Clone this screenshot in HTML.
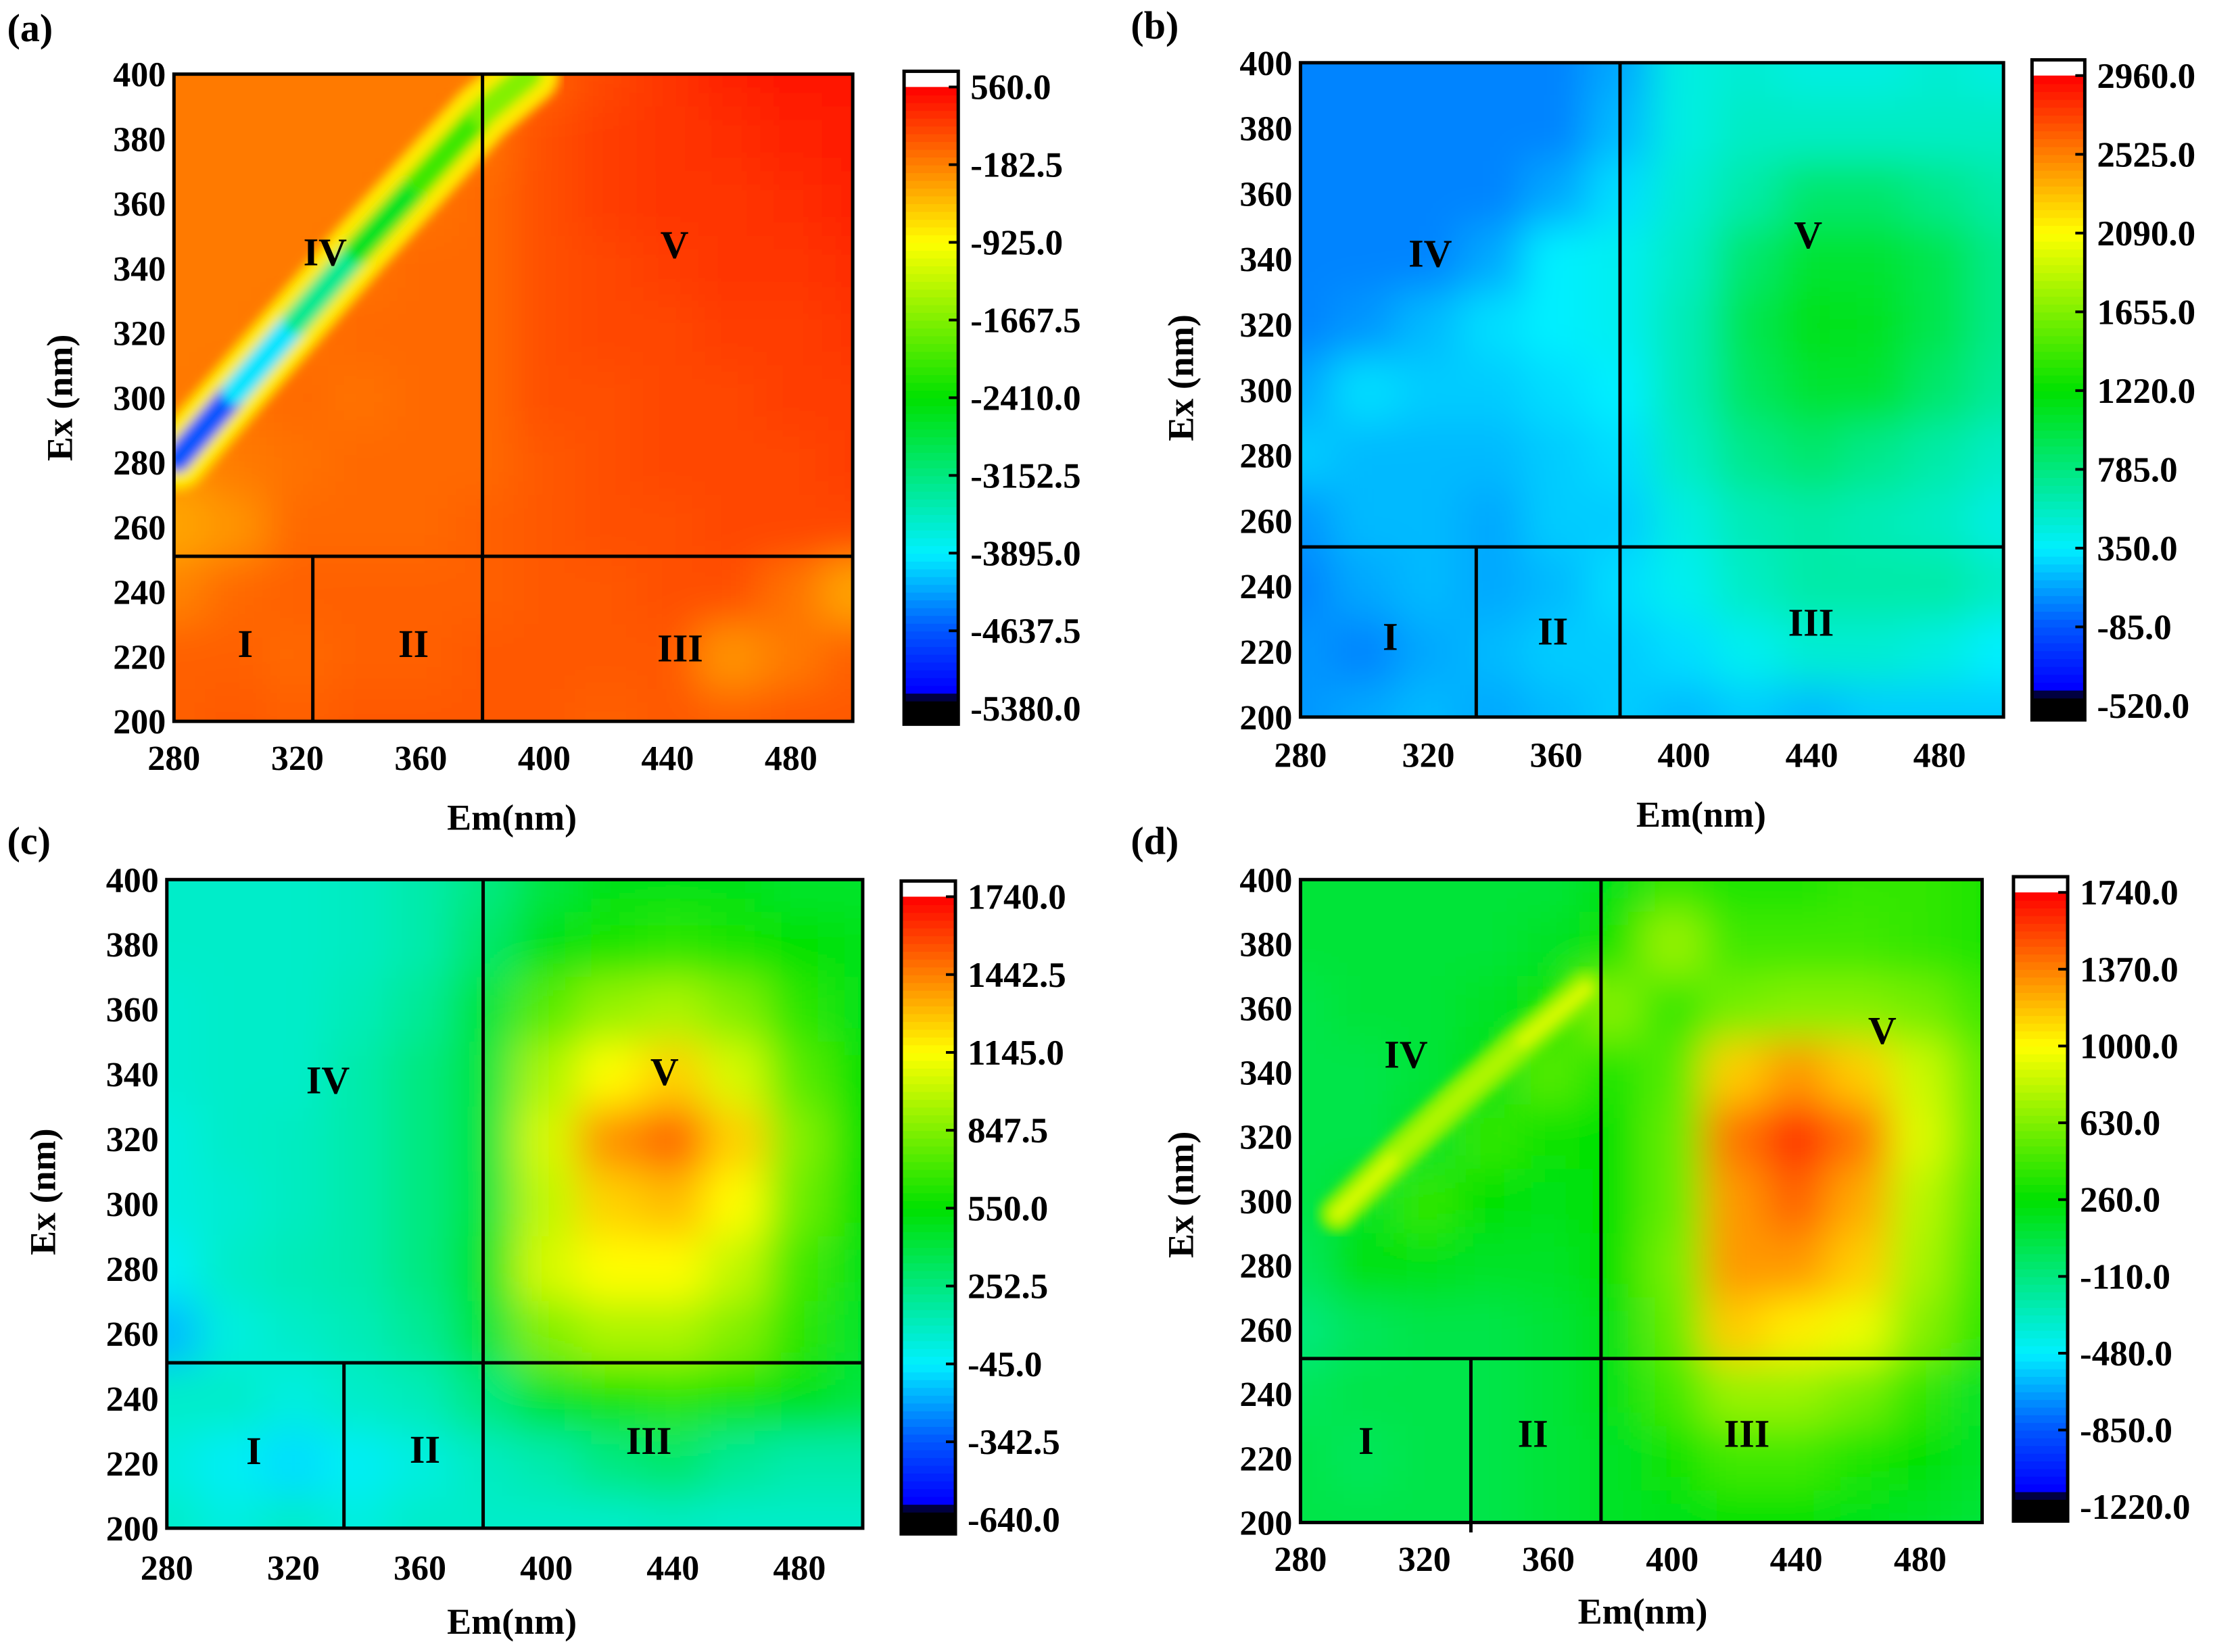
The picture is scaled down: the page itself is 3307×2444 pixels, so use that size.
<!DOCTYPE html>
<html><head><meta charset="utf-8"><style>
html,body{margin:0;padding:0;background:#fff;}
svg{display:block;}
text{font-family:"Liberation Serif",serif;font-weight:bold;fill:#000;}
</style></head><body>
<svg id="fig" width="3307" height="2444" viewBox="0 0 3307 2444" xmlns="http://www.w3.org/2000/svg">
<defs>
<filter id="blur" x="-10%" y="-10%" width="120%" height="120%"><feGaussianBlur stdDeviation="30"/></filter>
<filter id="blurS" x="-10%" y="-10%" width="120%" height="120%"><feGaussianBlur stdDeviation="8"/></filter>
</defs>
</svg>
<script>
// em columns 280..500 step 20, ex rows 400..200 step 20
const emCats=[280,300,320,340,360,380,400,420,440,460,480,500];
const exCats=[400,380,360,340,320,300,280,260,240,220,200];
const xTicks=['280','320','360','400','440','480'];
const yTicks=['400','380','360','340','320','300','280','260','240','220','200'];
const gridA=[
[-150,-150,-150,-150,-150,-150,0,150,250,350,420,450],
[-150,-150,-150,-150,-150,-100,100,200,250,300,350,400],
[-150,-150,-150,-150,-100,-50,100,200,250,250,300,350],
[-150,-150,-150,-100,-50,-50,100,150,200,250,250,300],
[-150,-150,-100,-50,-50,-50,100,150,150,200,200,250],
[-150,-100,-50,-100,-50,-50,100,100,150,150,200,200],
[-300,-150,-100,-50,-50,-50,50,100,150,150,150,200],
[-400,-300,-50,-50,-50,0,50,100,100,150,150,150],
[-200,-50,0,0,0,0,50,50,100,100,-100,-400],
[0,0,-50,0,0,50,50,50,50,-300,-150,0],
[0,50,0,50,50,50,50,0,50,0,50,50]];
const gridB=[
[50,50,50,50,50,150,450,500,450,450,500,450],
[50,50,50,50,50,200,450,550,550,550,550,550],
[50,50,50,50,150,300,500,650,850,850,750,650],
[50,50,50,150,350,400,550,850,1050,1050,950,750],
[50,100,200,300,350,400,600,950,1150,1100,950,750],
[150,300,250,250,300,350,600,900,1050,1050,850,700],
[250,200,200,200,250,300,550,750,850,750,650,550],
[100,200,200,150,250,250,450,600,650,600,550,450],
[50,150,200,150,200,300,400,550,650,650,650,550],
[100,50,150,200,250,250,300,400,500,500,450,350],
[100,150,200,150,200,250,200,250,200,250,250,250]];
const gridC=[
[80,80,80,100,150,250,400,500,500,500,450,450],
[80,80,80,100,150,300,500,600,650,600,550,500],
[60,80,80,120,200,400,750,900,950,850,650,500],
[60,80,80,150,250,400,950,1150,1250,1050,750,550],
[30,80,100,150,250,400,1050,1400,1500,1250,850,550],
[30,60,100,150,250,400,1000,1250,1300,1150,800,550],
[-20,80,120,150,250,450,1050,1150,1150,1000,700,500],
[-150,30,80,120,200,400,850,950,950,850,650,450],
[80,80,30,80,120,250,450,600,650,600,500,400],
[30,-20,-80,-20,30,100,150,250,300,200,150,150],
[80,30,80,30,80,80,80,80,100,80,80,80]];
const gridD=[
[100,100,100,100,100,200,400,350,350,400,400,350],
[100,100,100,100,150,300,700,450,450,450,400,350],
[50,100,100,150,300,650,400,600,650,650,600,450],
[50,50,100,200,500,350,500,1150,1300,1150,850,550],
[50,50,150,400,300,250,550,1400,1600,1400,900,550],
[50,150,400,250,200,250,550,1300,1450,1250,800,500],
[0,250,200,150,150,250,600,1300,1300,1150,750,450],
[-100,0,50,50,100,200,550,1150,1050,950,650,400],
[0,50,50,50,100,200,450,700,700,600,400,150],
[50,0,50,50,100,150,300,450,450,350,250,150],
[50,50,50,50,100,150,200,250,250,200,150,100]];
// scatter band: [em, ex, value]
const bandA=[[281,281,-5000],[300,302,-4300],[320,324,-3600],[340,346,-2900],[360,367,-2300],[380,388,-1800],[395,400,-1500]];
const bandAHalo=[-800];
const bandD=[[292,296,950],[312,315,800],[332,333,750],[352,350,800],[372,366,950]];
const bandDHalo=[650];
const cbA=['560.0','-182.5','-925.0','-1667.5','-2410.0','-3152.5','-3895.0','-4637.5','-5380.0'];
const cbB=['2960.0','2525.0','2090.0','1655.0','1220.0','785.0','350.0','-85.0','-520.0'];
const cbC=['1740.0','1442.5','1145.0','847.5','550.0','252.5','-45.0','-342.5','-640.0'];
const cbD=['1740.0','1370.0','1000.0','630.0','260.0','-110.0','-480.0','-850.0','-1220.0'];
const rangeA=[-5380,560],rangeB=[-520,2960],rangeC=[-640,1740],rangeD=[-1220,1740];

const S=2.109;
const NS='http://www.w3.org/2000/svg';
const svg=document.getElementById('fig');
function mk(tag,attrs,parent){const e=document.createElementNS(NS,tag);for(const k in attrs)e.setAttribute(k,attrs[k]);(parent||svg).appendChild(e);return e;}
const stops=[[0,[0,0,0]],[0.015,[0,0,0]],[0.03,[0,0,255]],[0.13,[0,90,255]],[0.25,[0,240,255]],[0.5,[0,225,0]],[0.75,[255,255,0]],[0.875,[255,128,0]],[1,[255,0,0]]];
function cmap(t){t=Math.max(0,Math.min(1,t));for(let i=1;i<stops.length;i++){if(t<=stops[i][0]){const a=stops[i-1],b=stops[i];const f=(t-a[0])/((b[0]-a[0])||1);const c=a[1].map((v,j)=>Math.round(v+(b[1][j]-v)*f));return 'rgb('+c.join(',')+')';}}return 'rgb(255,0,0)';}

const panels=[
{id:'a',lab:[5,20],px:[122,598],py:[52,506],cb:[634,672,50,508],cbT:[61,497],range:rangeA,cbl:cbA,grid:gridA,band:bandA,halo:bandAHalo,div:{v:380,sub:325,h:251,subExt:0},
 xt:530,xtitle:[359,573],ytitle:[42,279],rom:[['IV',228,177],['V',473,172],['I',172,452],['II',290,452],['III',477,455]]},
{id:'b',lab:[793,18],px:[912,1405],py:[44,503],cb:[1425,1462,42,505],cbT:[53,495],range:rangeB,cbl:cbB,grid:gridB,band:null,div:{v:380,sub:335,h:252,subExt:0},
 xt:528,xtitle:[1193,571],ytitle:[828,265],rom:[['IV',1003,178],['V',1268,165],['I',975,447],['II',1089,443],['III',1270,437]]},
{id:'c',lab:[5,590],px:[117,605],py:[617,1072],cb:[632,670,618,1076],cbT:[629,1066],range:rangeC,cbl:cbC,grid:gridC,band:null,div:{v:380,sub:336,h:251,subExt:0},
 xt:1098,xtitle:[359,1137],ytitle:[30,836],rom:[['IV',230,758],['V',466,752],['I',178,1018],['II',298,1017],['III',455,1011]]},
{id:'d',lab:[793,590],px:[912,1390],py:[617,1068],cb:[1412,1450,615,1067],cbT:[626,1057],range:rangeD,cbl:cbD,grid:gridD,band:bandD,halo:bandDHalo,div:{v:377,sub:335,h:251,subExt:7},
 xt:1092,xtitle:[1152,1130],ytitle:[828,838],rom:[['IV',986,740],['V',1320,723],['I',958,1011],['II',1075,1006],['III',1225,1006]]}
];

panels.forEach(p=>{
 const x0=p.px[0]*S,x1=p.px[1]*S,y0=p.py[0]*S,y1=p.py[1]*S;
 const xs=v=>x0+(v-280)/220*(x1-x0);
 const ys=v=>y1-(v-200)/200*(y1-y0);
 const tv=v=>(v-p.range[0])/(p.range[1]-p.range[0]);
 const g=mk('g',{});
 
 
 const lt=mk('text',{x:p.lab[0]*S,y:(p.lab[1]+9)*S,'font-size':58},g);lt.textContent='('+p.id+')';
 
 
 const cp=mk('clipPath',{id:'clip'+p.id},g);mk('rect',{x:x0,y:y0,width:x1-x0,height:y1-y0},cp);
 const hm=mk('g',{'clip-path':'url(#clip'+p.id+')'},g);
 
 
 const cells=mk('g',{filter:'url(#blur)'},hm);
 const dx=(x1-x0)/11,dy=(y1-y0)/10;
 p.grid.forEach((row,ri)=>row.forEach((v,ci)=>{
   const cx=xs(emCats[ci]),cy=ys(exCats[ri]);
   let l=cx-dx/2,r=cx+dx/2,t=cy-dy/2,b=cy+dy/2;
   if(ci===0)l-=120;if(ci===row.length-1)r+=120;if(ri===0)t-=120;if(ri===p.grid.length-1)b+=120;
   const c=mk('rect',{x:l,y:t,width:r-l+1,height:b-t+1,fill:cmap(tv(v))},cells);
   
   
 }));
 if(p.band){
   const bg=mk('g',{filter:'url(#blurS)'},hm);
   const pts=p.band.map(b=>xs(b[0])+','+ys(b[1])).join(' ');
   const h=mk('polyline',{points:pts,fill:'none',stroke:cmap(tv(p.halo[0])),'stroke-width':p.id==='a'?90:55,'stroke-linecap':'round'},bg);
   
   
   for(let i=1;i<p.band.length;i++){
     const a=p.band[i-1],b=p.band[i];
     const s=mk('line',{x1:xs(a[0]),y1:ys(a[1]),x2:xs(b[0]),y2:ys(b[1]),stroke:cmap(tv((a[2]+b[2])/2)),'stroke-width':p.id==='a'?40:22,'stroke-linecap':'round'},bg);
     
     
   }
 }
 const lw=5;
 const dv=mk('line',{x1:xs(p.div.v),y1:y0,x2:xs(p.div.v),y2:y1,stroke:'#000','stroke-width':lw},g);
 
 const dh=mk('line',{x1:x0,y1:ys(p.div.h),x2:x1,y2:ys(p.div.h),stroke:'#000','stroke-width':lw},g);
 
 const ds=mk('line',{x1:xs(p.div.sub),y1:ys(p.div.h),x2:xs(p.div.sub),y2:y1+p.div.subExt*S,stroke:'#000','stroke-width':lw},g);
 
 const fr=mk('rect',{x:x0,y:y0,width:x1-x0,height:y1-y0,fill:'none',stroke:'#000','stroke-width':5},g);
 
 p.rom.forEach(r=>{const t=mk('text',{x:r[1]*S,y:(r[2]+9)*S,'font-size':58,'text-anchor':'middle'},g);t.textContent=r[0];
   });
 xTicks.forEach(s=>{const t=mk('text',{x:xs(+s),y:(p.xt+10)*S,'font-size':52,'text-anchor':'middle'},g);t.textContent=s;
   });
 yTicks.forEach(s=>{const t=mk('text',{x:x0-12,y:ys(+s)+18,'font-size':52,'text-anchor':'end'},g);t.textContent=s;
   });
 const xt=mk('text',{x:p.xtitle[0]*S,y:(p.xtitle[1]+9)*S,'font-size':54,'text-anchor':'middle'},g);xt.textContent='Em(nm)';
 
 const yt=mk('text',{x:0,y:0,'font-size':54,'text-anchor':'middle',transform:'translate('+(p.ytitle[0]*S+18)+','+(p.ytitle[1]*S)+') rotate(-90)'},g);yt.textContent='Ex (nm)';
 
 const cbx0=p.cb[0]*S,cbx1=p.cb[1]*S,cby0=p.cb[2]*S,cby1=p.cb[3]*S,ct=p.cbT[0]*S,cbm=p.cbT[1]*S;
 const cg=mk('g',{},g);
 mk('rect',{x:cbx0,y:cby0,width:cbx1-cbx0,height:ct-cby0,fill:'#fff'},cg);
 mk('rect',{x:cbx0,y:cbm,width:cbx1-cbx0,height:cby1-cbm,fill:'#000'},cg);
 const N=80;
 for(let i=0;i<N;i++){const t0=i/N;const yy=cbm-(i+1)/N*(cbm-ct);
   mk('rect',{x:cbx0,y:yy,width:cbx1-cbx0,height:(cbm-ct)/N+1,fill:cmap(t0+0.5/N)},cg);}
 mk('rect',{x:cbx0,y:cby0,width:cbx1-cbx0,height:cby1-cby0,fill:'none',stroke:'#000','stroke-width':5},cg);
 p.cbl.forEach((s,i)=>{const yy=ct+i/(p.cbl.length-1)*(cbm-ct);
   mk('line',{x1:cbx1-14,y1:yy,x2:cbx1,y2:yy,stroke:'#000','stroke-width':4},cg);
   const t=mk('text',{x:cbx1+18,y:yy+18,'font-size':53},cg);t.textContent=s;
   });
});
</script>
</body></html>
